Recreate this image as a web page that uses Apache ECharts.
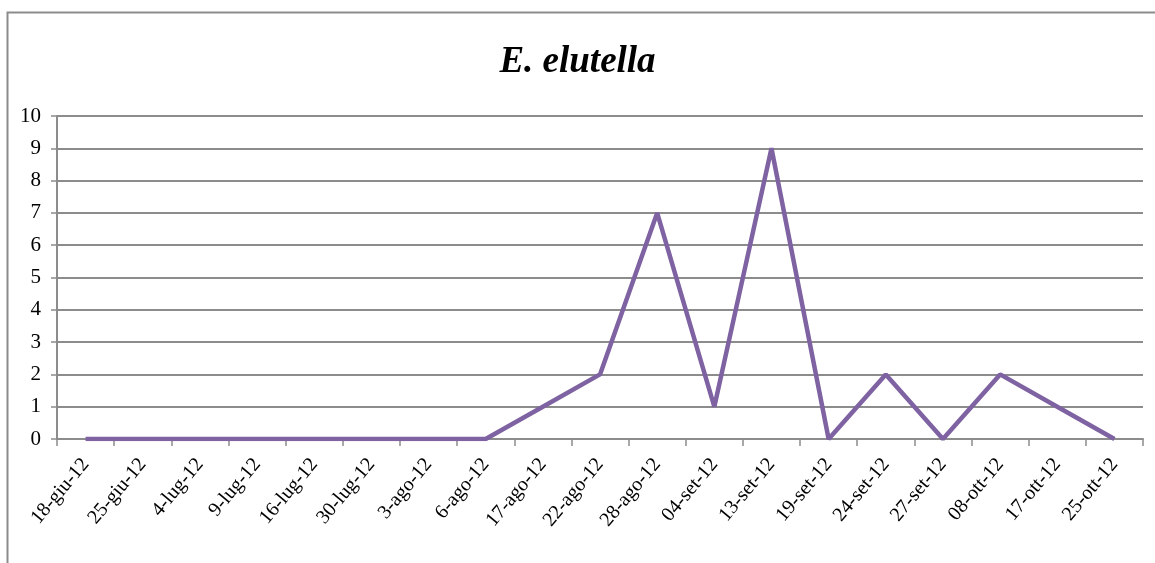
<!DOCTYPE html>
<html>
<head>
<meta charset="utf-8">
<style>
  html, body { margin: 0; padding: 0; background: #ffffff; }
  #chart { width: 1155px; height: 563px; }
</style>
<script src="https://cdn.jsdelivr.net/npm/echarts@6/dist/echarts.min.js"></script>
</head>
<body>
<div id="chart"></div>
<script>
// Trap dates (sampling days, 2012)
const categories = [
  '18-giu-12', '25-giu-12', '4-lug-12', '9-lug-12', '16-lug-12', '30-lug-12',
  '3-ago-12', '6-ago-12', '17-ago-12', '22-ago-12', '28-ago-12', '04-set-12',
  '13-set-12', '19-set-12', '24-set-12', '27-set-12', '08-ott-12', '17-ott-12',
  '25-ott-12'
];
// Catches per date
const catches = [0, 0, 0, 0, 0, 0, 0, 0, 1, 2, 7, 1, 9, 0, 2, 0, 2, 1, 0];
const titleText = 'E. elutella';

const serif = '"Liberation Serif", "Times New Roman", serif';
const gridGray = '#8c8c8c';

const chart = echarts.init(document.getElementById('chart'), null, { renderer: 'canvas' });
chart.setOption({
  animation: false,
  backgroundColor: '#ffffff',
  title: {
    text: titleText,
    left: 'center',
    top: 39,
    textStyle: {
      fontFamily: serif,
      fontStyle: 'italic',
      fontWeight: 'bold',
      fontSize: 37,
      color: '#000000'
    }
  },
  graphic: [
    {
      type: 'polyline',
      shape: { points: [[7.5, 563], [7.5, 12.5], [1155, 12.5]] },
      style: { stroke: '#8c8c8c', lineWidth: 2, fill: null }
    }
  ],
  grid: { left: 57, right: 12, top: 116, bottom: 124, containLabel: false },
  xAxis: {
    type: 'category',
    data: categories,
    boundaryGap: true,
    axisLine: { show: true, lineStyle: { color: gridGray, width: 2 } },
    axisTick: { show: true, alignWithLabel: false, length: 7, lineStyle: { color: gridGray, width: 1.5 } },
    axisLabel: {
      rotate: 50,
      interval: 0,
      margin: 22,
      fontFamily: serif,
      fontSize: 20,
      color: '#000000'
    },
    splitLine: { show: false }
  },
  yAxis: {
    type: 'value',
    min: 0,
    max: 10,
    interval: 1,
    axisLine: { show: true, lineStyle: { color: gridGray, width: 2 } },
    axisTick: { show: true, length: 6, lineStyle: { color: gridGray, width: 1.5 } },
    axisLabel: {
      margin: 16,
      fontFamily: serif,
      fontSize: 21,
      color: '#000000'
    },
    splitLine: { show: true, lineStyle: { color: gridGray, width: 2 } }
  },
  series: [
    {
      type: 'line',
      data: catches,
      symbol: 'none',
      lineStyle: { color: '#7e62a2', width: 4.5 },
      itemStyle: { color: '#7e62a2' }
    }
  ]
});
</script>
</body>
</html>
